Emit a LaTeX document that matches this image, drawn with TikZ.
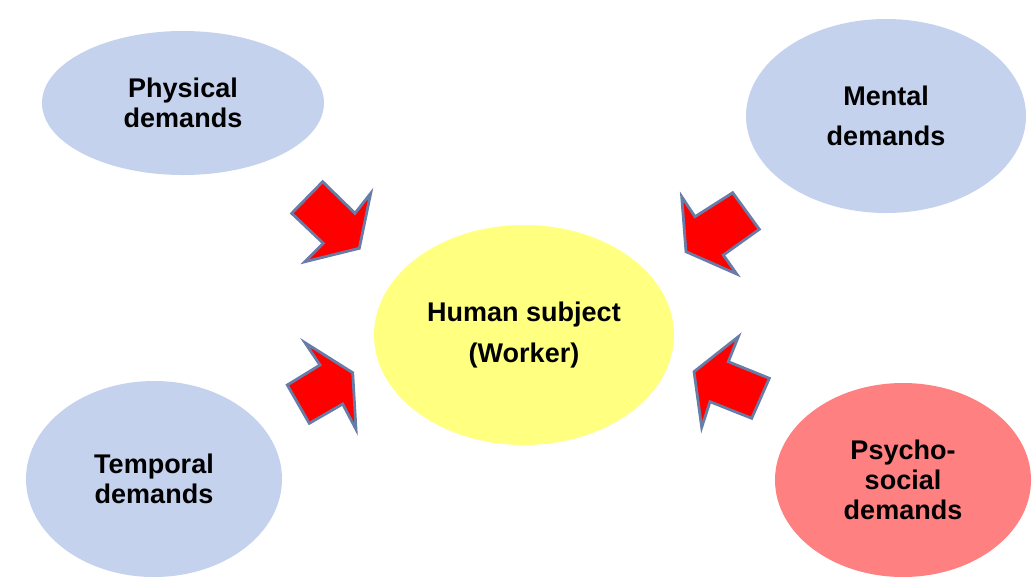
\documentclass[tikz,border=0pt]{standalone}
\usepackage{fontspec}
\setmainfont{Liberation Sans}
\usetikzlibrary{shapes.geometric}
\definecolor{bubbleblue}{RGB}{197,210,238}
\definecolor{bubbleyellow}{RGB}{255,255,128}
\definecolor{bubblepink}{RGB}{255,128,128}
\definecolor{arrowred}{RGB}{255,0,0}
\definecolor{arrowedge}{RGB}{104,124,168}
\tikzset{
  bubble/.style={ellipse, inner sep=0pt, align=center, text=black,
    font={\fontsize{27}{30}\selectfont\bfseries}},
  blockarrow/.style={fill=arrowred, draw=arrowedge, line width=2.8pt, line join=miter}
}
\begin{document}
\begin{tikzpicture}[x=1pt,y=-1pt]
\useasboundingbox (0,0) rectangle (1032,576);
\clip (0,0) rectangle (1032,576);
% ellipses
\node[bubble, fill=bubbleblue, minimum width=282pt, minimum height=144pt] (phys) at (183,103)
  {Physical\\demands};
\node[bubble, fill=bubbleblue, minimum width=280pt, minimum height=194pt] (ment) at (886,116)
  {Mental\\[10pt]demands};
\node[bubble, fill=bubbleyellow, minimum width=300pt, minimum height=220pt] (human) at (524,335)
  {Human subject\\[11pt](Worker)};
\node[bubble, fill=bubbleblue, minimum width=256pt, minimum height=196pt] (temp) at (154,479)
  {Temporal\\demands};
\node[bubble, fill=bubblepink, minimum width=256pt, minimum height=194pt] (psy) at (903,480)
  {Psycho-\\social\\demands};
% block arrows
\draw[blockarrow] (322.7,181.7) -- (291.7,213.3) -- (323.3,243.3) -- (305,261.7)
  -- (359.3,248.3) -- (370.7,193.3) -- (355,213.3) -- cycle;
\draw[blockarrow] (686,251.7) -- (681.7,196.7) -- (695,216.7) -- (732.7,192.7)
  -- (759.3,229.3) -- (723.3,255) -- (736.7,274) -- cycle;
\draw[blockarrow] (352.7,372.7) -- (305,342.7) -- (320,365) -- (287.3,385)
  -- (309.3,423.3) -- (342.7,404) -- (356,429.3) -- cycle;
\draw[blockarrow] (694,371.7) -- (738.3,336.7) -- (728.3,361.7) -- (769.3,378.3)
  -- (751.7,418.3) -- (710,401.7) -- (701.7,427.3) -- cycle;
\end{tikzpicture}
\end{document}
